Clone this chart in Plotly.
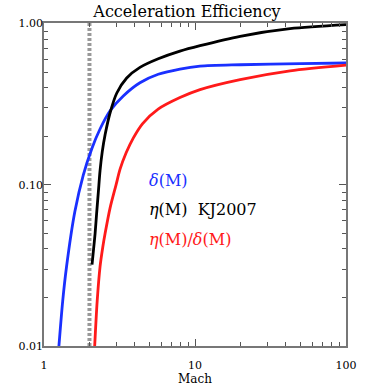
import plotly.graph_objects as go

# values (Mach number vs efficiency)
mach_delta = [1.25, 1.33, 1.41, 1.60, 1.82, 2.07, 2.35, 2.74, 3.35, 4.32, 5.71, 7.95, 10.8, 20, 50, 100]
delta = [0.0095, 0.019, 0.031, 0.068, 0.115, 0.167, 0.222, 0.288, 0.356, 0.430, 0.485, 0.523, 0.545, 0.556, 0.565, 0.570]

mach_eta = [2.08, 2.13, 2.18, 2.23, 2.29, 2.35, 2.43, 2.54, 2.74, 3.03, 3.53, 4.32, 5.71, 7.95, 10.8, 19.9, 42.6, 100]
eta = [0.032, 0.040, 0.050, 0.066, 0.090, 0.122, 0.160, 0.205, 0.280, 0.370, 0.460, 0.535, 0.605, 0.675, 0.730, 0.835, 0.930, 0.985]

mach_ratio = [2.16, 2.25, 2.35, 2.45, 2.54, 2.74, 3.0, 3.19, 3.5, 3.9, 4.5, 5.7, 7.95, 10.8, 19.9, 42.6, 100]
ratio = [0.0095, 0.019, 0.031, 0.041, 0.050, 0.072, 0.100, 0.125, 0.158, 0.195, 0.240, 0.295, 0.348, 0.390, 0.450, 0.510, 0.553]

xtick_vals = [1, 10, 100]
xtick_text = ['1', '10', '100']
ytick_vals = [0.01, 0.1, 1.0]
ytick_text = ['0.01', '0.10', '1.00']

serif = 'DejaVu Serif'
blue = '#1a30ff'
red = '#ff1a1a'

fig = go.Figure()
fig.add_trace(go.Scatter(x=mach_delta, y=delta, mode='lines',
                         line=dict(color=blue, width=2.8, shape='spline', smoothing=0.8)))
fig.add_trace(go.Scatter(x=mach_eta, y=eta, mode='lines',
                         line=dict(color='black', width=2.8, shape='spline', smoothing=0.8)))
fig.add_trace(go.Scatter(x=mach_ratio, y=ratio, mode='lines',
                         line=dict(color=red, width=2.8, shape='spline', smoothing=0.8)))

# M = 2 marker
fig.add_shape(type='line', x0=2, x1=2, y0=0, y1=1, xref='x', yref='paper',
              line=dict(color='#999999', width=4, dash='3px,2px'), layer='below')

minor_x = [m * d for d in (1, 10) for m in range(2, 10)]
minor_y = [m * d for d in (0.01, 0.1) for m in range(2, 10)]

fig.update_layout(
    width=374, height=392,
    margin=dict(l=44, r=28, t=23, b=44),
    plot_bgcolor='white', paper_bgcolor='white',
    showlegend=False,
    font=dict(family=serif, size=12, color='black'),
    title=dict(text='Acceleration Efficiency', x=0.5, xanchor='center',
               y=1 - 11 / 392, yanchor='middle', font=dict(family=serif, size=16)),
    xaxis=dict(type='log', range=[0, 2], tickvals=xtick_vals, ticktext=xtick_text,
               ticks='inside', ticklen=7, tickcolor='#555', showgrid=False, zeroline=False,
               showline=True, linecolor='#777', linewidth=1.5, mirror='ticks',
               minor=dict(ticks='inside', ticklen=4, tickvals=minor_x, tickcolor='#555', showgrid=False),
               title=dict(text='Mach', font=dict(family=serif, size=12), standoff=0),
               tickfont=dict(family=serif, size=11), ticklabelstandoff=8),
    yaxis=dict(type='log', range=[-2, 0.004], tickvals=ytick_vals, ticktext=ytick_text,
               ticks='inside', ticklen=7, tickcolor='#555', showgrid=False, zeroline=False,
               showline=True, linecolor='#777', linewidth=1.5, mirror='ticks',
               minor=dict(ticks='inside', ticklen=4, tickvals=minor_y, tickcolor='#555', showgrid=False),
               tickfont=dict(family=serif, size=11), ticklabelstandoff=-3),
)

labels = [('<i>δ</i>(M)', blue, 0.511),
          ('<i>η</i>(M)  KJ2007', 'black', 0.4215),
          ('<i>η</i>(M)/<i>δ</i>(M)', red, 0.329)]
for text, color, yp in labels:
    fig.add_annotation(text=text, x=0.341, y=yp, xref='paper', yref='paper',
                       xanchor='left', yanchor='middle', showarrow=False,
                       font=dict(family=serif, size=16, color=color))

# page has an 8px body margin by default; drop it so the figure sits at the window corner
fig.write_html('out.html', config={'displayModeBar': False},
               post_script="document.body.style.margin='0';")
